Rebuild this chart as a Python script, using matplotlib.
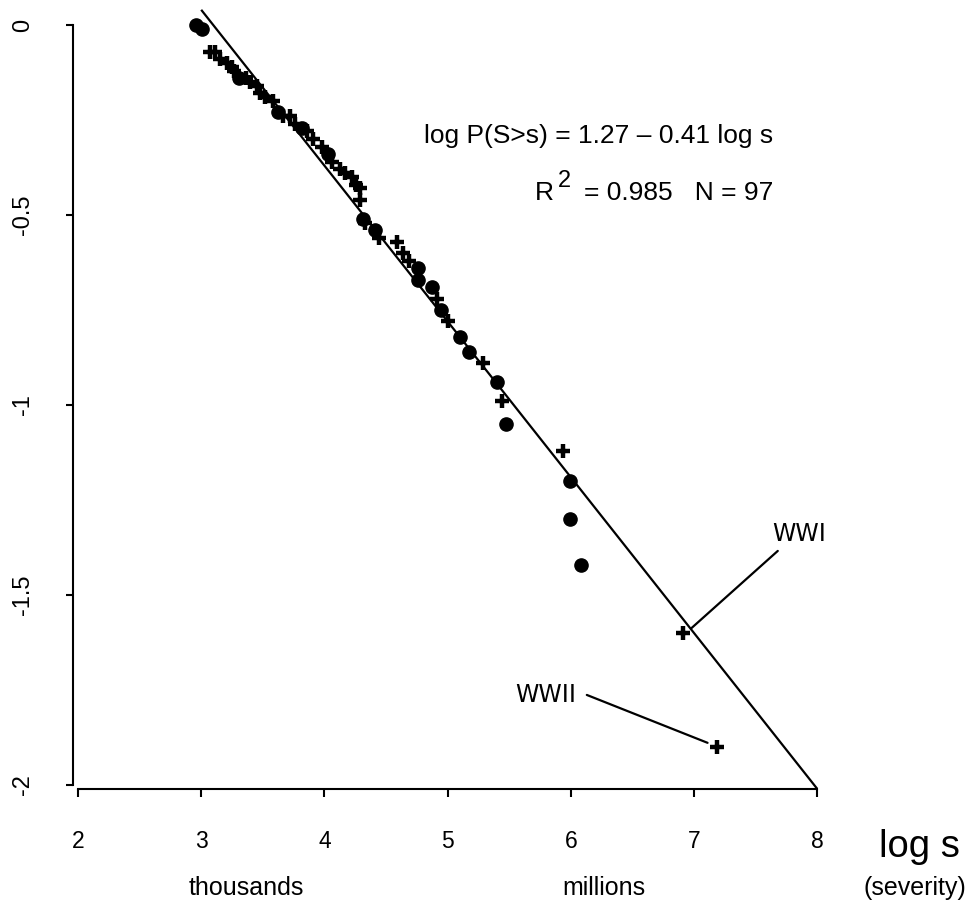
import matplotlib
matplotlib.use("Agg")
import matplotlib.pyplot as plt

# ---- data ----
plus_x = [3.07, 3.11, 3.15, 3.21, 3.25, 3.27, 3.36, 3.40, 3.45, 3.48, 3.52, 3.58,
          3.66, 3.72, 3.76, 3.86, 3.91, 3.98, 4.06, 4.13, 4.17, 4.22, 4.26, 4.29,
          4.29, 4.33, 4.44, 4.59, 4.64, 4.69, 4.91, 5.00, 5.29, 5.44, 5.94, 6.91, 7.19]
plus_y = [-0.07, -0.07, -0.09, -0.10, -0.11, -0.12, -0.14, -0.15, -0.16, -0.18, -0.19, -0.20,
          -0.24, -0.24, -0.26, -0.28, -0.30, -0.32, -0.36, -0.38, -0.39, -0.40, -0.42, -0.43,
          -0.46, -0.52, -0.56, -0.57, -0.60, -0.62, -0.72, -0.78, -0.89, -0.99, -1.12, -1.60, -1.90]
dot_x = [2.96, 3.01, 3.31, 3.62, 3.82, 4.03, 4.31, 4.41, 4.76, 4.76, 4.87, 4.95,
         5.10, 5.17, 5.40, 5.47, 5.99, 5.99, 6.08]
dot_y = [0.0, -0.01, -0.14, -0.23, -0.27, -0.34, -0.51, -0.54, -0.64, -0.67, -0.69, -0.75,
         -0.82, -0.86, -0.94, -1.05, -1.20, -1.30, -1.42]

fit_intercept = 1.27
fit_slope = -0.41
fit_range = [3.0, 8.0]

x_ticks = [2, 3, 4, 5, 6, 7, 8]
y_ticks = [0, -0.5, -1, -1.5, -2]
y_tick_labels = ["0", "-0.5", "-1", "-1.5", "-2"]

eq_text = "log P(S>s) = 1.27 \u2013 0.41 log s"
r2_text = "= 0.985   N = 97"

# ---- figure ----
W, H = 969, 907
fig = plt.figure(figsize=(W / 100, H / 100), dpi=100)
plt.rcParams['font.family'] = ['Liberation Sans', 'DejaVu Sans']

left_px, right_px, top_px, bottom_px = 73, 845, 5, 789
ax = fig.add_axes([left_px / W, (H - bottom_px) / H,
                   (right_px - left_px) / W, (bottom_px - top_px) / H])
px_per_x = 123.2
px_per_y = 380.0
ax.set_xlim(2 - 5 / px_per_x, 2 + (right_px - 78) / px_per_x)
ax.set_ylim(-(bottom_px - 25) / px_per_y, (25 - top_px) / px_per_y)

# fit line
fx = fit_range
fy = [fit_intercept + fit_slope * v for v in fx]
ax.plot(fx, fy, color='black', lw=1.6, solid_capstyle='butt', zorder=2)

# points
ax.plot(plus_x, plus_y, linestyle='none', marker='+', ms=10, mew=3.2,
        color='black', clip_on=False, zorder=3)
ax.plot(dot_x, dot_y, linestyle='none', marker='o', ms=9.5,
        color='black', mec='black', clip_on=False, zorder=3)

# spines
for s in ['top', 'right']:
    ax.spines[s].set_visible(False)
ax.spines['left'].set_bounds(-2, 0)
ax.spines['bottom'].set_bounds(2, 8)
for s in ['left', 'bottom']:
    ax.spines[s].set_linewidth(1.5)

ax.set_xticks(x_ticks)
ax.set_xticklabels([str(v) for v in x_ticks], fontsize=16.5)
ax.set_yticks(y_ticks)
ax.set_yticklabels(y_tick_labels, fontsize=17, rotation=90, va='center')
ax.tick_params(axis='x', direction='out', length=5.8, width=1.5, pad=23.5)
ax.tick_params(axis='y', direction='out', length=5.0, width=1.5, pad=23)

# equation texts
ax.text(7.641, -0.31, eq_text, ha='right', va='baseline', fontsize=19)
ax.text(5.709, -0.4605, "R", ha='left', va='baseline', fontsize=19)
ax.text(5.896, -0.426, "2", ha='left', va='baseline', fontsize=17)
ax.text(7.641, -0.4605, r2_text, ha='right', va='baseline', fontsize=19)

# annotations
ax.annotate("", xy=(6.98, -1.587), xytext=(7.68, -1.384),
            arrowprops=dict(arrowstyle='-', lw=1.6, color='black',
                            shrinkA=0, shrinkB=0))
ax.text(7.856, -1.358, "WWI", ha='center', va='baseline', fontsize=17,
        family='DejaVu Sans')
ax.annotate("", xy=(7.11, -1.889), xytext=(6.13, -1.763),
            arrowprops=dict(arrowstyle='-', lw=1.6, color='black',
                            shrinkA=0, shrinkB=0))
ax.text(5.795, -1.782, "WWII", ha='center', va='baseline', fontsize=17,
        family='DejaVu Sans')

# axis annotations below
ax.text(3.37, -2.289, "thousands", ha='center', va='baseline', fontsize=18, clip_on=False)
ax.text(6.27, -2.289, "millions", ha='center', va='baseline', fontsize=18, clip_on=False)
ax.text(8.826, -2.189, "log s", ha='center', va='baseline', fontsize=27.5, clip_on=False)
ax.text(8.79, -2.289, "(severity)", ha='center', va='baseline', fontsize=18, clip_on=False)

fig.savefig("out.png", dpi=100)
